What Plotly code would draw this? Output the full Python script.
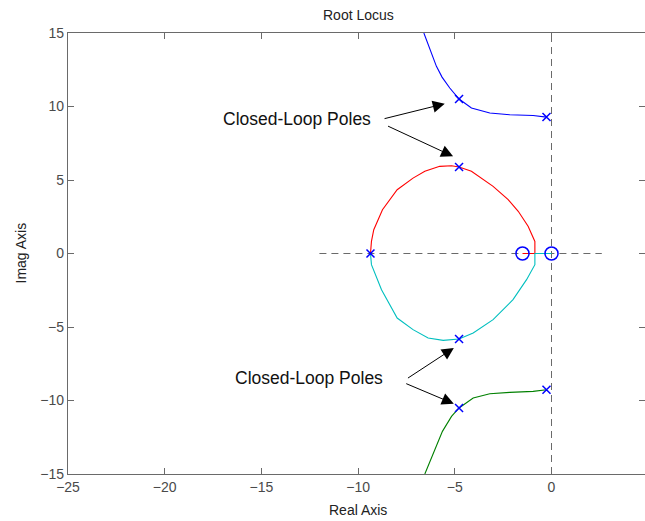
import plotly.graph_objects as go

# ---- data ----
blue_x = [-6.60, -6.29, -5.95, -5.66, -5.26, -4.78, -4.14, -3.19, -2.16, -0.95, -0.26]
blue_y = [15.0, 13.86, 12.73, 12.00, 11.26, 10.51, 9.90, 9.56, 9.44, 9.39, 9.28]

green_x = [-6.55, -6.12, -5.64, -5.17, -4.78, -4.05, -3.19, -2.16, -0.95, -0.26]
green_y = [-15.0, -13.57, -12.10, -11.08, -10.51, -9.83, -9.54, -9.45, -9.38, -9.27]

red_x = [-9.36, -9.31, -9.19, -8.74, -7.98, -7.16, -6.55, -5.78, -5.17, -4.78, -4.14,
         -3.02, -2.24, -1.72, -1.21, -0.86, -0.86, -1.50]
red_y = [0.0, 0.82, 1.62, 2.98, 4.34, 5.13, 5.59, 5.93, 5.97, 5.88, 5.59,
         4.57, 3.66, 2.87, 1.85, 0.82, 0.0, 0.0]

cyan_x = [-9.36, -9.31, -8.79, -7.98, -7.16, -6.38, -5.60, -4.78, -4.05, -3.02,
          -1.99, -1.29, -0.86, -0.86, 0.0]
cyan_y = [0.0, -0.76, -2.46, -4.39, -5.18, -5.75, -5.91, -5.82, -5.41, -4.50,
          -3.14, -1.78, -0.76, 0.0, 0.0]

pole_x = [-0.26, -0.26, -9.36, -4.78, -4.78, -4.78, -4.78]
pole_y = [9.28, -9.27, 0.0, 10.51, 5.88, -5.82, -10.51]

zero_x = [-1.50, 0.0]
zero_y = [0.0, 0.0]

hline_x = [-12.0, 2.6]
hline_y = [0.0, 0.0]
vline_x = [0.0, 0.0]
vline_y = [-15.0, 15.0]

xticks = [-25, -20, -15, -10, -5, 0]
yticks = [-15, -10, -5, 0, 5, 10, 15]

FONT = "Liberation Sans, Arial, sans-serif"
AX = "#6a6a6a"
TXT = "#4a4a4a"

fig = go.Figure()

dash = "7px,5px"
fig.add_trace(go.Scatter(x=hline_x, y=hline_y, mode="lines",
                         line=dict(color=AX, width=1, dash=dash)))
fig.add_trace(go.Scatter(x=vline_x, y=vline_y, mode="lines",
                         line=dict(color=AX, width=1, dash=dash)))

for xs, ys, c in [(blue_x, blue_y, "#0000ff"), (red_x, red_y, "#ff0000"),
                  (cyan_x, cyan_y, "#00bfbf"), (green_x, green_y, "#008000")]:
    fig.add_trace(go.Scatter(x=xs, y=ys, mode="lines", line=dict(color=c, width=1.1)))

fig.add_trace(go.Scatter(x=pole_x, y=pole_y, mode="markers",
                         marker=dict(symbol="x-thin-open", size=8, color="#0000ff",
                                     line=dict(color="#0000ff", width=1.5))))
fig.add_trace(go.Scatter(x=zero_x, y=zero_y, mode="markers",
                         marker=dict(symbol="circle-open", size=13, color="#0000ff",
                                     line=dict(color="#0000ff", width=1.5))))

annos = []
label_font = dict(family=FONT, size=17.5, color="#111111")
annos.append(dict(x=-13.17, y=9.13, xref="x", yref="y", text="Closed-Loop Poles",
                  showarrow=False, font=label_font))
annos.append(dict(x=-12.53, y=-8.47, xref="x", yref="y", text="Closed-Loop Poles",
                  showarrow=False, font=label_font))
for hx, hy, tx, ty in [(-5.52, 10.19, -8.71, 9.15), (-5.09, 6.61, -8.53, 8.71),
                       (-5.05, -6.43, -7.50, -8.54), (-5.05, -10.22, -7.59, -8.81)]:
    annos.append(dict(x=hx, y=hy, ax=tx, ay=ty, xref="x", yref="y", axref="x", ayref="y",
                      text="", showarrow=True, arrowhead=2, arrowsize=2.4,
                      arrowwidth=1, arrowcolor="#000000", standoff=0, startstandoff=0))

annos.append(dict(x=-10, y=1, xref="x", yref="paper", yanchor="middle", yshift=18,
                  text="Root Locus", showarrow=False,
                  font=dict(family=FONT, size=14, color="#222222")))
annos.append(dict(x=-10, y=0, xref="x", yref="paper", yanchor="middle", yshift=-36,
                  text="Real Axis", showarrow=False,
                  font=dict(family=FONT, size=14, color="#222222")))
annos.append(dict(x=0, y=0, xref="paper", yref="y", xanchor="center", xshift=-48,
                  text="Imag Axis", textangle=-90, showarrow=False,
                  font=dict(family=FONT, size=14, color="#222222")))

fig.update_layout(
    width=645, height=521,
    margin=dict(l=68, r=0, t=33, b=47),
    paper_bgcolor="white", plot_bgcolor="white",
    showlegend=False,
    annotations=annos,
    xaxis=dict(range=[-25, 4.834], tickvals=xticks, ticks="inside", ticklen=6,
               tickcolor=AX, showline=True, linecolor=AX, linewidth=1.3, mirror="ticks",
               showgrid=False, zeroline=False,
               tickfont=dict(family=FONT, size=14, color=TXT)),
    yaxis=dict(range=[-15, 15], tickvals=yticks, ticks="inside", ticklen=6,
               tickcolor=AX, showline=True, linecolor=AX, linewidth=1.3,
               showgrid=False, zeroline=False,
               tickfont=dict(family=FONT, size=14, color=TXT)),
    yaxis2=dict(range=[-15, 15], tickvals=yticks, ticks="inside", ticklen=6,
                tickcolor=AX, overlaying="y", side="right", showline=False,
                showticklabels=False, showgrid=False, zeroline=False),
)
# dummy trace so the right-hand tick axis is drawn
fig.add_trace(go.Scatter(x=[None], y=[None], yaxis="y2", mode="lines"))

fig.write_html("out.html")
